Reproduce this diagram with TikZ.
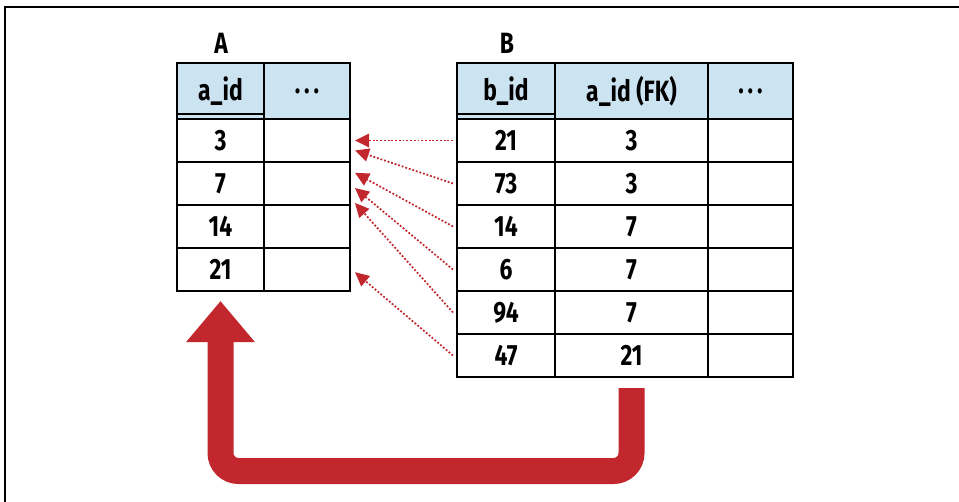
\documentclass[tikz,border=0pt]{standalone}
\usepackage{fontspec}
\newfontfamily\tabfont{Fira Sans}[FakeStretch=0.78]
\usetikzlibrary{arrows.meta}
\definecolor{headblue}{RGB}{204,227,241}
\definecolor{fkred}{RGB}{193,39,45}
\newcommand{\cellfont}{\tabfont\bfseries\fontsize{22}{24}\selectfont}
\newcommand{\moredots}{.\kern3pt.\kern3pt.}
\tikzset{
  cell/.style={draw, line width=1.5pt, inner sep=0pt, outer sep=0pt,
    minimum height=32.25pt, font=\cellfont},
  head/.style={cell, fill=headblue, minimum height=42pt},
  fkarrow/.style={fkred, line width=1.3pt, dash pattern=on 1.4pt off 1.4pt,
    -{Triangle[length=10.5pt,width=10pt]}},
  bigarrow/.style={fkred, line width=19.5pt, rounded corners=13.5pt,
    -{Triangle[length=30.75pt,width=49.5pt]}}
}
\begin{document}
\begin{tikzpicture}[x=0.75pt,y=-0.75pt]
  \useasboundingbox (0,0) rectangle (959,502);
  % Marco
  \draw[line width=1.5pt] (5,502) -- (5,7) -- (959,7);

  % Tabla A
  \node[font=\cellfont] (atitle) at (221,43) {A};
  \node[head, minimum width=65.25pt] (ahid) at (220.5,91) {a\_id};
  \node[head, minimum width=64.5pt] (ahx) at (307,91) {\moredots};
  \draw[line width=1.5pt] ([yshift=3.75pt]ahid.south west) -- ([yshift=3.75pt]ahid.south east);
  \foreach \v [count=\i] in {3,7,14,21} {
    \node[cell, minimum width=65.25pt] (a\i id) at (220.5,97.5+43*\i) {\v};
    \node[cell, minimum width=64.5pt] (a\i x) at (307,97.5+43*\i) {};
  }

  % Tabla B
  \node[font=\cellfont] (btitle) at (507,43) {B};
  \node[head, minimum width=73.5pt] (bhid) at (506,91) {b\_id};
  \node[head, minimum width=114.75pt] (bhfk) at (631.5,91) {a\_id (FK)};
  \node[head, minimum width=63.75pt] (bhx) at (750.5,91) {\moredots};
  \draw[line width=1.5pt] ([yshift=3.75pt]bhid.south west) -- ([yshift=3.75pt]bhid.south east);
  \foreach \v/\k [count=\i] in {21/3,73/3,14/7,6/7,94/7,47/21} {
    \node[cell, minimum width=73.5pt] (b\i id) at (506,97.5+43*\i) {\v};
    \node[cell, minimum width=114.75pt] (b\i k) at (631.5,97.5+43*\i) {\k};
    \node[cell, minimum width=63.75pt] (b\i x) at (750.5,97.5+43*\i) {};
  }

  % Referencias (FK)
  \foreach \r/\t/\dy in {1/1/0,2/1/-7.5,3/2/8,4/2/-3.4,5/2/-14.6,6/4/-2}
    \draw[fkarrow] ([xshift=-3pt]b\r id.west) -- ([shift={(3.75pt,\dy pt)}]a\t x.east);

  % Flecha grande
  \coordinate (fkout) at ([yshift=-8.25pt]b6k.south);
  \coordinate (aidin) at ([yshift=-7.5pt]a4id.south);
  \coordinate (turn) at (aidin |- 0,471);
  \draw[bigarrow] (fkout) |- (turn) -- (aidin);
\end{tikzpicture}
\end{document}
